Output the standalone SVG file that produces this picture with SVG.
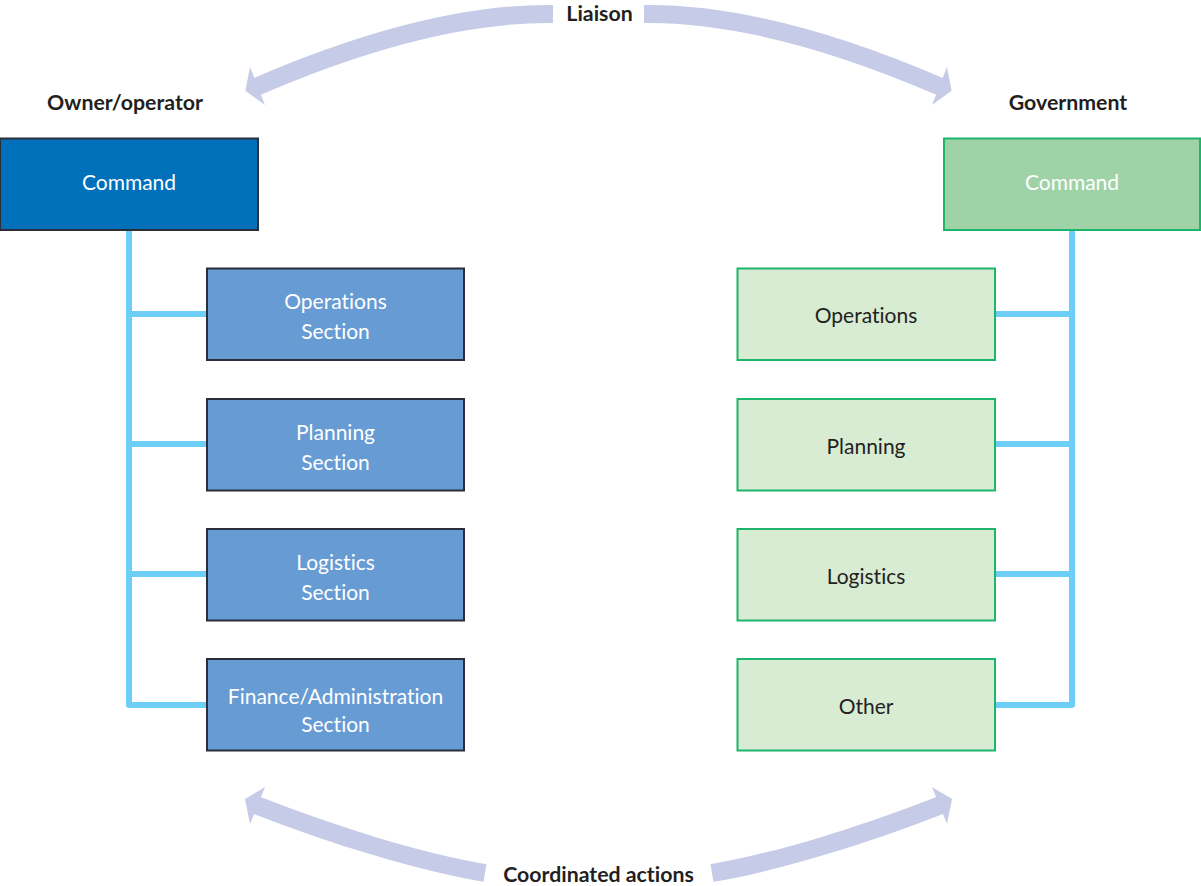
<svg xmlns="http://www.w3.org/2000/svg" width="1201" height="886" viewBox="0 0 1201 886">
<style>
  text { font-variant-ligatures: none; font-feature-settings: "liga" 0, "dlig" 0; }
  .lbl { font-family: Lato, "Liberation Sans", sans-serif; font-size: 21px; text-anchor: middle; }
  .hdr { font-family: Lato, "Liberation Sans", sans-serif; font-size: 21.3px; font-weight: bold; fill: #231F20; text-anchor: middle; }
  .own { fill: #669BD3; stroke: #2A2D3A; stroke-width: 2; }
  .ownc { fill: #0070BA; stroke: #2A2D3A; stroke-width: 2; }
  .gov { fill: #D8EBD3; stroke: #1DB56C; stroke-width: 2; }
  .govc { fill: #9FD3A7; stroke: #1DB56C; stroke-width: 2; }
  .wt { fill: #FFFFFF; }
  .dk { fill: #231F20; }
  .conn { fill: none; stroke: #6ECFF6; stroke-width: 6; stroke-linejoin: round; }
  .arc { fill: none; stroke: #C6CBE8; stroke-width: 18; }
  .ah { fill: #C6CBE8; }
</style>

<!-- big arcs -->
<g id="arcs">
  <g id="liaison-left">
    <path class="arc" d="M553,14 C460,13 360,42 256,87"/>
    <polygon class="ah" points="250,67 265,105 245.4,90.8"/>
  </g>
  <g id="liaison-right" transform="translate(1197,0) scale(-1,1)">
    <path class="arc" d="M553,14 C460,13 360,42 256,87"/>
    <polygon class="ah" points="250,67 265,105 245.4,90.8"/>
  </g>
  <g id="coord-left">
    <path class="arc" d="M485,873 C420,862 335,836 256,805"/>
    <polygon class="ah" points="265,787 250,824 245,799"/>
  </g>
  <g id="coord-right" transform="translate(1197,0) scale(-1,1)">
    <path class="arc" d="M485,873 C420,862 335,836 256,805"/>
    <polygon class="ah" points="265,787 250,824 245,799"/>
  </g>
</g>

<!-- connectors -->
<g id="connectors">
  <path class="conn" d="M129,230 V705 H207 M129,314 H207 M129,444 H207 M129,574 H207"/>
  <path class="conn" d="M1072,230 V705 H995 M1072,314 H995 M1072,444 H995 M1072,574 H995"/>
</g>

<!-- labels -->
<text id="lbl-liaison" class="hdr" x="599.5" y="21">Liaison</text>
<text id="lbl-owner" class="hdr" x="125" y="110">Owner/operator</text>
<text id="lbl-gov" class="hdr" x="1068" y="110">Government</text>
<text id="lbl-coord" class="hdr" x="598.5" y="882">Coordinated actions</text>

<!-- owner/operator nodes -->
<g id="own-command">
  <rect class="ownc" x="0" y="138.5" width="258" height="91.5"/>
  <text class="lbl wt" x="129" y="190">Command</text>
</g>
<g id="own-operations">
  <rect class="own" x="207" y="268.5" width="257" height="91.5"/>
  <text class="lbl wt" x="335.5" y="309">Operations</text>
  <text class="lbl wt" x="335.5" y="339">Section</text>
</g>
<g id="own-planning">
  <rect class="own" x="207" y="399" width="257" height="91.5"/>
  <text class="lbl wt" x="335.5" y="439.5">Planning</text>
  <text class="lbl wt" x="335.5" y="469.5">Section</text>
</g>
<g id="own-logistics">
  <rect class="own" x="207" y="529" width="257" height="91.5"/>
  <text class="lbl wt" x="335.5" y="569.5">Logistics</text>
  <text class="lbl wt" x="335.5" y="599.5">Section</text>
</g>
<g id="own-finance">
  <rect class="own" x="207" y="659" width="257" height="91.5"/>
  <text class="lbl wt" x="335.5" y="703.5">Finance/Administration</text>
  <text class="lbl wt" x="335.5" y="731.5">Section</text>
</g>

<!-- government nodes -->
<g id="gov-command">
  <rect class="govc" x="944" y="138.5" width="256" height="91.5"/>
  <text class="lbl wt" x="1072" y="190">Command</text>
</g>
<g id="gov-operations">
  <rect class="gov" x="737.5" y="268.5" width="257.5" height="91.5"/>
  <text class="lbl dk" x="866" y="323">Operations</text>
</g>
<g id="gov-planning">
  <rect class="gov" x="737.5" y="399" width="257.5" height="91.5"/>
  <text class="lbl dk" x="866" y="453.5">Planning</text>
</g>
<g id="gov-logistics">
  <rect class="gov" x="737.5" y="529" width="257.5" height="91.5"/>
  <text class="lbl dk" x="866" y="583.5">Logistics</text>
</g>
<g id="gov-other">
  <rect class="gov" x="737.5" y="659" width="257.5" height="91.5"/>
  <text class="lbl dk" x="866" y="713.5">Other</text>
</g>
</svg>
